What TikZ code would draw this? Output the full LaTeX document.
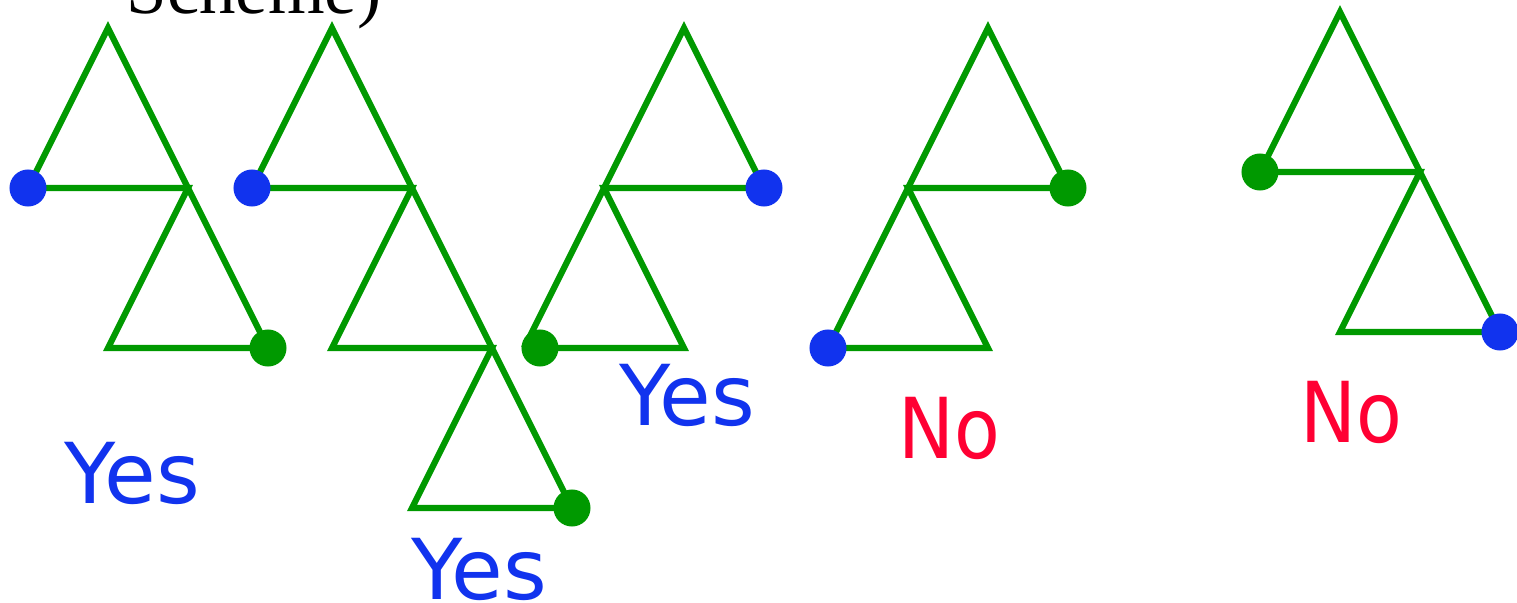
\documentclass[tikz,border=0pt]{standalone}
\usepackage{fontspec}
\setmainfont{Liberation Serif}
\newfontfamily\labfont{DejaVu Sans}
\newfontfamily\nofont[FakeStretch=0.89]{DejaVu Sans}
\definecolor{tgreen}{RGB}{0,153,0}
\definecolor{tblue}{RGB}{17,51,238}
\definecolor{tred}{RGB}{255,0,51}
\tikzset{
  gline/.style={draw=tgreen, line width=1.75pt, line join=miter},
  bdot/.style={circle, fill=tblue, inner sep=0pt, minimum size=0.37cm},
  gdot/.style={circle, fill=tgreen, inner sep=0pt, minimum size=0.37cm},
  yeslab/.style={anchor=base west, inner sep=0pt, text=tblue, font=\labfont\fontsize{23.9}{28}\selectfont},
  nolab/.style={anchor=base west, inner sep=0pt, text=tred, font=\nofont\fontsize{23.9}{28}\selectfont},
}
\begin{document}
\begin{tikzpicture}[x=0.01cm, y=-0.01cm]
\useasboundingbox (0,0) rectangle (1517,603);
% partial title at top
\node[anchor=base west, inner sep=0pt, font=\fontsize{20.7}{24}\selectfont] (title) at (126,13) {Scheme)};
% tree 1
\coordinate (t1a) at (108,28); \coordinate (t1L) at (28,188); \coordinate (t1b) at (188,188);
\coordinate (t1c) at (108,348); \coordinate (t1R) at (268,348);
\draw[gline] (t1L) -- (t1a) -- (t1R);
\draw[gline] (t1L) -- (t1b) -- (t1c) -- (t1R);
\node[bdot] (d1L) at (t1L) {};
\node[gdot] (d1R) at (t1R) {};
% tree 2
\coordinate (t2a) at (332,28); \coordinate (t2L) at (252,188); \coordinate (t2b) at (412,188);
\coordinate (t2c) at (332,348); \coordinate (t2d) at (492,348); \coordinate (t2e) at (412,508);
\coordinate (t2R) at (572,508);
\draw[gline] (t2L) -- (t2a) -- (t2R);
\draw[gline] (t2L) -- (t2b) -- (t2c) -- (t2d) -- (t2e) -- (t2R);
\node[bdot] (d2L) at (t2L) {};
\node[gdot] (d2R) at (t2R) {};
% tree 3
\coordinate (t3a) at (684,28); \coordinate (t3R) at (764,188); \coordinate (t3b) at (604,188);
\coordinate (t3L) at (524,348); \coordinate (t3c) at (684,348); \coordinate (t3g) at (540,348);
\draw[gline] (t3R) -- (t3a) -- (t3L);
\draw[gline] (t3R) -- (t3b) -- (t3c) -- (t3L);
\node[bdot] (d3R) at (t3R) {};
\node[gdot] (d3L) at (t3g) {};
% tree 4
\coordinate (t4a) at (988,28); \coordinate (t4R) at (1068,188); \coordinate (t4b) at (908,188);
\coordinate (t4L) at (828,348); \coordinate (t4c) at (988,348);
\draw[gline] (t4R) -- (t4a) -- (t4L);
\draw[gline] (t4R) -- (t4b) -- (t4c) -- (t4L);
\node[gdot] (d4R) at (t4R) {};
\node[bdot] (d4L) at (t4L) {};
% tree 5
\coordinate (t5a) at (1340,12); \coordinate (t5L) at (1260,172); \coordinate (t5b) at (1420,172);
\coordinate (t5c) at (1340,332); \coordinate (t5R) at (1500,332);
\draw[gline] (t5L) -- (t5a) -- (t5R);
\draw[gline] (t5L) -- (t5b) -- (t5c) -- (t5R);
\node[gdot] (d5L) at (t5L) {};
\node[bdot] (d5R) at (t5R) {};
% labels
\node[yeslab] (y1) at (64,503) {Yes};
\node[yeslab] (y2) at (411,599) {Yes};
\node[yeslab] (y3) at (619,425) {Yes};
\node[nolab] (n1) at (898,458) {No};
\node[nolab] (n2) at (1300,442) {No};
\end{tikzpicture}
\end{document}
